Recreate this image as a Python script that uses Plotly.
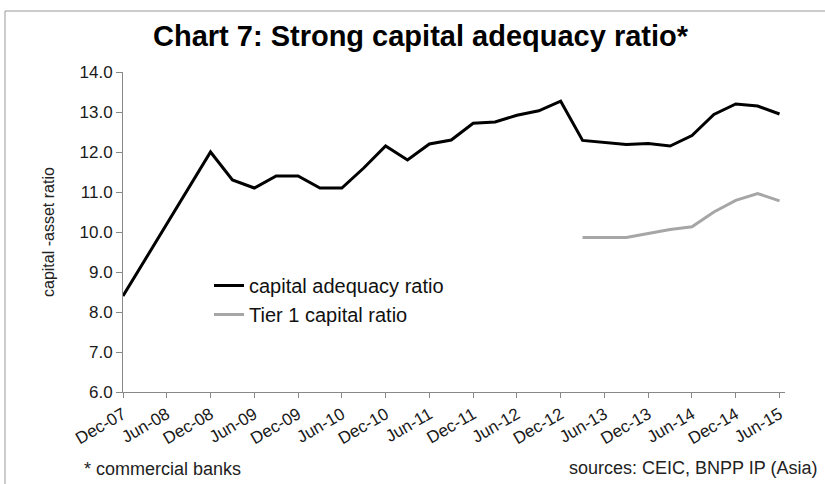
import plotly.graph_objects as go

# Quarterly observations, Dec-07 to Jun-15
quarters = [
    "Dec-07", "Mar-08", "Jun-08", "Sep-08", "Dec-08", "Mar-09", "Jun-09", "Sep-09",
    "Dec-09", "Mar-10", "Jun-10", "Sep-10", "Dec-10", "Mar-11", "Jun-11", "Sep-11",
    "Dec-11", "Mar-12", "Jun-12", "Sep-12", "Dec-12", "Mar-13", "Jun-13", "Sep-13",
    "Dec-13", "Mar-14", "Jun-14", "Sep-14", "Dec-14", "Mar-15", "Jun-15",
]
capital_adequacy = [
    8.4, 9.3, 10.2, 11.1, 12.0, 11.3, 11.1, 11.4,
    11.4, 11.1, 11.1, 11.6, 12.15, 11.8, 12.2, 12.3,
    12.72, 12.75, 12.92, 13.03, 13.27, 12.29, 12.24, 12.19,
    12.21, 12.15, 12.41, 12.94, 13.2, 13.15, 12.95,
]
tier1 = [None] * 21 + [9.86, 9.86, 9.86, 9.96, 10.06, 10.13, 10.5, 10.79, 10.96, 10.78]
tick_labels = quarters[::2]

FONT = "Arial, 'Liberation Sans', sans-serif"
W, H = 825, 484
L, R, T, B = 123, 40, 72, 92
pw, ph = W - L - R, H - T - B


def px_x(x):
    return (x - L) / pw


def px_y(y):
    return (H - B - y) / ph


fig = go.Figure()
fig.add_trace(go.Scatter(
    x=quarters, y=capital_adequacy, mode="lines", name="capital adequacy ratio",
    line=dict(color="#000000", width=3),
))
fig.add_trace(go.Scatter(
    x=quarters, y=tier1, mode="lines", name="Tier 1 capital ratio",
    line=dict(color="#a6a6a6", width=3),
))

fig.update_layout(
    width=W, height=H,
    margin=dict(l=L, r=R, t=T, b=B, autoexpand=False),
    paper_bgcolor="white", plot_bgcolor="white",
    font=dict(family=FONT, color="#222222"),
    showlegend=True,
    legend=dict(
        x=px_x(209), y=px_y(266), xanchor="left", yanchor="top",
        font=dict(size=20, family=FONT, color="#111111"),
        bgcolor="rgba(0,0,0,0)", tracegroupgap=0,
    ),
    xaxis=dict(
        type="category", categoryorder="array", categoryarray=quarters,
        range=[0, 30.25],
        tickvals=tick_labels, ticktext=tick_labels, tickangle=-30,
        tickfont=dict(size=17, family=FONT, color="#1a1a1a"),
        ticks="outside", ticklen=5, tickcolor="#888888", tickwidth=1,
        showline=True, linecolor="#888888", linewidth=1,
        showgrid=False, zeroline=False,
    ),
    yaxis=dict(
        range=[6, 14], dtick=1, tickformat=".1f",
        tickfont=dict(size=17, family=FONT, color="#1a1a1a"),
        ticks="outside", ticklen=6, tickcolor="#888888", tickwidth=1,
        showline=True, linecolor="#888888", linewidth=1,
        showgrid=False, zeroline=False,
    ),
)

annotations = [
    dict(text="Chart 7: Strong capital adequacy ratio*", x=px_x(421), y=px_y(36),
         xanchor="center", yanchor="middle",
         font=dict(size=29, family=FONT, color="#000000", weight="bold")),
    dict(text="capital -asset ratio", x=px_x(48), y=px_y(232), textangle=-90,
         xanchor="center", yanchor="middle",
         font=dict(size=16, family=FONT, color="#222222")),
    dict(text="* commercial banks", x=px_x(82), y=px_y(469),
         xanchor="left", yanchor="middle",
         font=dict(size=18, family=FONT, color="#222222")),
    dict(text="sources: CEIC, BNPP IP (Asia)", x=px_x(819), y=px_y(468),
         xanchor="right", yanchor="middle",
         font=dict(size=18, family=FONT, color="#222222")),
]
for a in annotations:
    a.update(xref="paper", yref="paper", showarrow=False)
fig.update_layout(annotations=annotations)

# Frame lines along the top and left edges
fig.add_shape(type="line", xref="paper", yref="paper",
              x0=px_x(5), x1=px_x(W), y0=px_y(11), y1=px_y(11),
              line=dict(color="#999999", width=1))
fig.add_shape(type="line", xref="paper", yref="paper",
              x0=px_x(5), x1=px_x(5), y0=px_y(11), y1=px_y(H),
              line=dict(color="#999999", width=1))

fig.write_html("out.html")
